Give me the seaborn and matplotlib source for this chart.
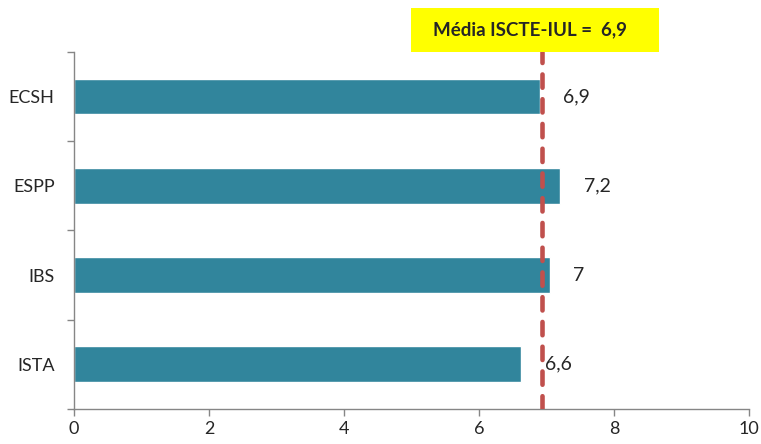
import pandas as pd
import matplotlib.pyplot as plt
import seaborn as sns
from matplotlib.patches import Rectangle

# data
schools = ["ECSH", "ESPP", "IBS", "ISTA"]
scores = [6.9, 7.2, 7.05, 6.63]
labels = ["6,9", "7,2", "7", "6,6"]
media = 6.93
media_label = "Média ISCTE-IUL =  6,9"
x_ticks = [0, 2, 4, 6, 8, 10]

df = pd.DataFrame({"school": schools, "score": scores})

sns.set_style("white")
plt.rcParams["font.family"] = ["Lato", "DejaVu Sans"]

fig = plt.figure(figsize=(7.61, 4.44), dpi=100)
ax = fig.add_axes([0.0972, 0.079, 0.8869, 0.804])

sns.barplot(data=df, x="score", y="school", orient="h", color="#31859C",
            saturation=1, width=0.4, ax=ax)

# value labels
ax.bar_label(ax.containers[0], labels=labels, padding=17, fontsize=14)

# average line
ax.axvline(media, color="#C0504D", lw=3.3, dashes=(2.9, 2.5),
           dash_capstyle="round", zorder=5)

ax.set_xlim(0, 10)
ax.set_ylim(3.5, -0.5)
ax.set_xticks(x_ticks)
ax.set_xticklabels([str(t) for t in x_ticks], fontsize=13)
ax.set_yticks([-0.5, 0.5, 1.5, 2.5, 3.5])
ax.set_yticklabels([])
ax.set_yticks(range(len(schools)), minor=True)
ax.set_yticklabels(schools, minor=True, fontsize=13)
ax.tick_params(axis="y", which="minor", length=0, pad=14)
ax.tick_params(axis="both", which="major", length=5, width=1, color="#868686",
               direction="out", left=True, bottom=True)
ax.set_xlabel("")
ax.set_ylabel("")

sns.despine(ax=ax)
for s in ["left", "bottom"]:
    ax.spines[s].set_color("#868686")
    ax.spines[s].set_linewidth(1)

# yellow annotation box
fig.patches.append(Rectangle((0.540, 0.883), 0.326, 0.099, transform=fig.transFigure,
                             facecolor="#FFFF00", edgecolor="none", zorder=0))
fig.text(0.697, 0.932, media_label, ha="center", va="center",
         fontsize=13.5, fontweight="bold")

plt.savefig("out.png", dpi=100)
